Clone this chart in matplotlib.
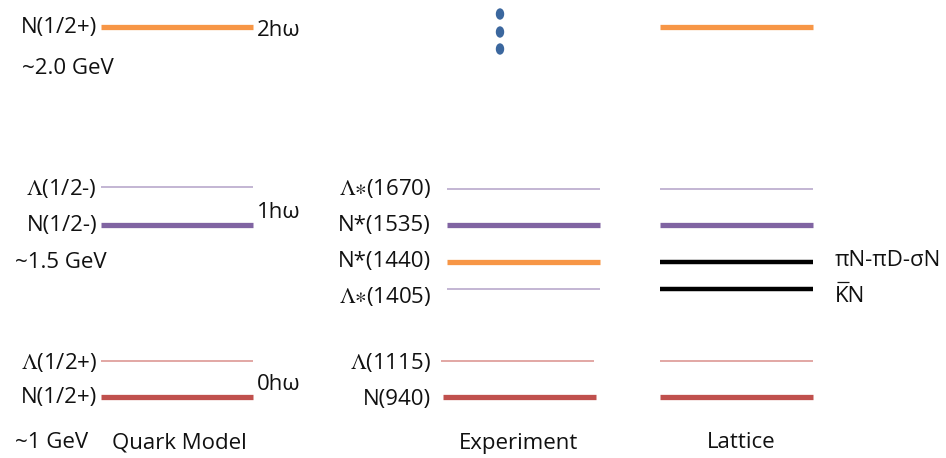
import matplotlib
matplotlib.use("Agg")
import matplotlib.pyplot as plt
from matplotlib.patches import Ellipse

plt.rcParams["mathtext.fontset"] = "stix"

# ---- data (vertical level positions, axis units) ----
qm_labels = ["N(1/2+)", r"$\Lambda$(1/2-)", "N(1/2-)", r"$\Lambda$(1/2+)", "N(1/2+)"]
qm_levels = [27, 187, 225, 361, 397]
qm_kinds = ["N2", "L1", "N1", "L0", "N0"]

exp_labels = [r"$\Lambda{\ast}$(1670)", "N*(1535)", "N*(1440)", r"$\Lambda{\ast}$(1405)",
              r"$\Lambda$(1115)", "N(940)"]
exp_levels = [189, 225, 262, 289, 361, 397]
exp_kinds = ["L1", "N1", "N2", "L1", "L0", "N0"]

lat_levels = [27, 189, 225, 262, 289, 361, 397]
lat_kinds = ["N2", "L1", "N1", "S", "S", "L0", "N0"]
lat_label_texts = ["πN-πD-σN", "KN"]
lat_label_levels = [262, 289]

shell_labels = ["2hω", "1hω", "0hω"]
shell_pos = [30, 212, 385]
gev_labels = ["~2.0 GeV", "~1.5 GeV", "~1 GeV"]
gev_pos = [68, 262, 443]
column_titles = ["Quark Model", "Experiment", "Lattice"]

dots_y = [14, 32, 49]

# ---- styles ----
styles = {
    "N2": dict(color="#F79646", lw=3.8),
    "N1": dict(color="#8064A2", lw=3.8),
    "N0": dict(color="#C0504D", lw=3.8),
    "L1": dict(color="#B3A2C7", lw=1.1),
    "L0": dict(color="#DA8F8C", lw=1.1),
    "S": dict(color="#000000", lw=3.2),
}

fig = plt.figure(figsize=(9.46, 4.58), dpi=100)
ax = fig.add_axes([0, 0, 1, 1])
ax.set_xlim(0, 946)
ax.set_ylim(458, 0)
ax.axis("off")

FONT = ["Open Sans", "DejaVu Sans"]
fs = 16
TC = "#111111"

def label(x, y, s, ha="right"):
    ax.text(x, y, s, ha=ha, va="center", fontsize=fs, family=FONT, color=TC)

# quark model column
for y, k in zip(qm_levels, qm_kinds):
    ax.hlines(y, 101, 253, **styles[k])
for y, s in zip(qm_levels, qm_labels):
    label(97, y + 1, s)

# experiment column
for y, k in zip(exp_levels, exp_kinds):
    x0, x1 = (447, 600)
    if k == "L0":
        x0, x1 = 441, 594
    if k == "N0":
        x0, x1 = 443, 596
    ax.hlines(y, x0, x1, **styles[k])
exp_text_off = [0, 0, -1, 8, 1, 3]
for y, s, o in zip(exp_levels, exp_labels, exp_text_off):
    label(431, y + o, s)

# lattice column
for y, k in zip(lat_levels, lat_kinds):
    ax.hlines(y, 660, 813, **styles[k])
lat_off = [-2, 7]
for y, s, o in zip(lat_label_levels, lat_label_texts, lat_off):
    ax.text(835, y + o, s, ha="left", va="center", fontsize=fs, family=FONT, color=TC)
# bar over K (anti-kaon)
ax.hlines(lat_label_levels[1] - 7, 837, 849, color=TC, lw=0.9)

# shell labels
for s, y in zip(shell_labels, shell_pos):
    ax.text(257, y, s, ha="left", va="center", fontsize=fs, family=FONT, color=TC)

# GeV labels
gev_x = [22, 15, 15]
for s, y, x in zip(gev_labels, gev_pos, gev_x):
    ax.text(x, y, s, ha="left", va="center", fontsize=fs, family=FONT, color=TC)

# column titles
title_x = [112, 519, 741]
title_ha = ["left", "center", "center"]
for s, x, ha in zip(column_titles, title_x, title_ha):
    ax.text(x, 443, s, ha=ha, va="center", fontsize=fs, family=FONT, color=TC)

# vertical ellipsis dots
for y in dots_y:
    ax.add_patch(Ellipse((500, y), 7, 10, color="#3B679E"))

fig.savefig("out.png", dpi=100)
